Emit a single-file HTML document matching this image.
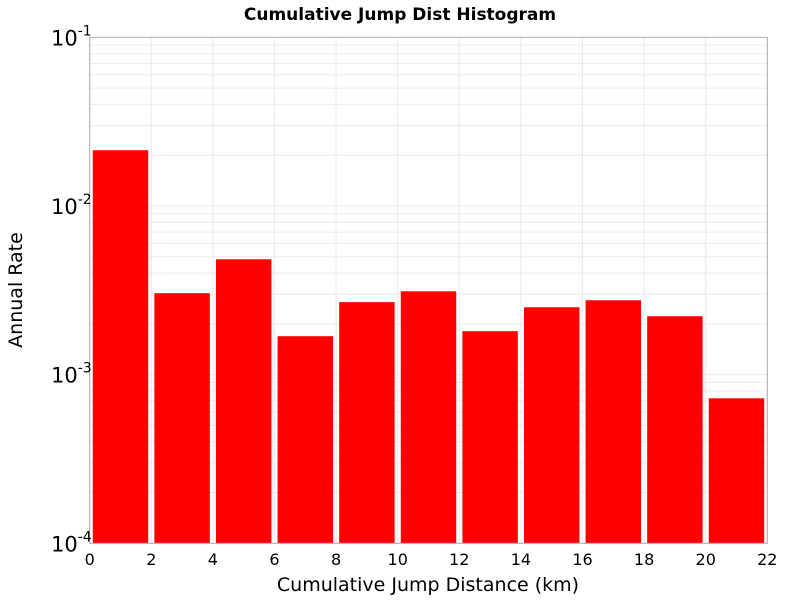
<!DOCTYPE html>
<html><head><meta charset="utf-8"><style>
body{margin:0;background:#fff;font-family:"DejaVu Sans","Liberation Sans",sans-serif}
</style></head><body>
<svg id="chart" width="800" height="600" xmlns="http://www.w3.org/2000/svg" font-family="DejaVu Sans, Liberation Sans, sans-serif">
<text x="400" y="20" text-anchor="middle" font-size="17" font-weight="bold">Cumulative Jump Dist Histogram</text>
<g id="grid"></g>
<g id="bars"></g>
<rect x="89.7" y="37.3" width="677.6" height="506" fill="none" stroke="#aaa" stroke-width="1"/>
<g id="xticks"></g>
<g id="yticks"></g>
<text x="428" y="591" text-anchor="middle" font-size="19">Cumulative Jump Distance (km)</text>
<text transform="translate(22,290) rotate(-90)" text-anchor="middle" font-size="19">Annual Rate</text>
</svg>
<script>
const binStarts=[0,2,4,6,8,10,12,14,16,18,20];
const rates=[0.0214,0.00304,0.00483,0.00169,0.00269,0.00312,0.00181,0.00251,0.00276,0.00222,0.000724];
const xTickLabels=["0","2","4","6","8","10","12","14","16","18","20","22"];
const yTickExps=[-4,-3,-2,-1];
const binWidth=2;
const NS="http://www.w3.org/2000/svg";
const L=89.7,R=767.3,T=37.3,B=543.3,xMin=0,xMax=22,yMinE=-4,yMaxE=-1;
function xs(v){return L+(v-xMin)/(xMax-xMin)*(R-L);}
function ys(v){return B-(Math.log10(v)-yMinE)/(yMaxE-yMinE)*(B-T);}
function mk(t,a,p){const e=document.createElementNS(NS,t);for(const k in a)e.setAttribute(k,a[k]);p.appendChild(e);return e;}
const grid=document.getElementById('grid');
for(let e=yMinE;e<yMaxE;e++){for(let m=1;m<10;m++){const v=m*Math.pow(10,e);const y=ys(v);
const ln=mk('line',{x1:L,x2:R,y1:y,y2:y,stroke:'#ebebeb','stroke-width':1},grid);

}}
xTickLabels.forEach(s=>{const x=xs(+s);
const ln=mk('line',{x1:x,x2:x,y1:T,y2:B,stroke:'#ebebeb','stroke-width':1},grid);

});
const bars=document.getElementById('bars');
binStarts.forEach((s,i)=>{const x0=xs(s+0.1),x1=xs(s+binWidth-0.1),y=ys(rates[i]);
const r=mk('rect',{x:x0,y:y,width:x1-x0,height:B-y,fill:'#ff0000'},bars);

});
const xt=document.getElementById('xticks');
xTickLabels.forEach(s=>{const t=mk('text',{x:xs(+s),y:565,'text-anchor':'middle','font-size':16},xt);t.textContent=s;

});
const yt=document.getElementById('yticks');
yTickExps.forEach(e=>{const y=ys(Math.pow(10,e));
const t=mk('text',{x:51,y:y+8,'font-size':21},yt);


const a=mk('tspan',{},t);a.textContent='10';
const b=mk('tspan',{dy:-10,'font-size':14},t);b.textContent=String(e);});
</script>
</body></html>
